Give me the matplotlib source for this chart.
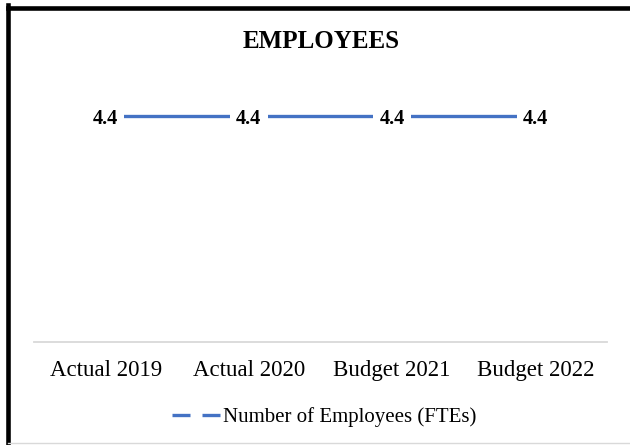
import matplotlib
matplotlib.use("Agg")
import matplotlib.pyplot as plt
from matplotlib.lines import Line2D

# 数値データ
categories = ["Actual 2019", "Actual 2020", "Budget 2021", "Budget 2022"]
employees = [4.4, 4.4, 4.4, 4.4]
series_name = "Number of Employees (FTEs)"
title = "EMPLOYEES"

plt.rcParams['font.family'] = ['Liberation Serif', 'DejaVu Serif']
blue = "#4472C4"

W, H = 630, 445
fig = plt.figure(figsize=(W / 100, H / 100), dpi=100)

# グラフ領域 (ピクセルで指定)
left, right, base, top = 34, 607, 341.5, 85.5
ax = fig.add_axes([left / W, 1 - base / H, (right - left) / W, (base - top) / H])

x = list(range(len(categories)))
ax.plot(x, employees, color=blue, lw=2.4, solid_capstyle="butt", zorder=2)

# データラベル(白背景で線を切る)
for xi, v in zip(x, employees):
    ax.text(xi, v, f"{v:.1f}", ha="center", va="center_baseline", fontsize=14.6,
            fontweight="bold", zorder=3,
            bbox=dict(boxstyle="square,pad=0.3", fc="white", ec="none"))

ax.set_xlim(-0.5, len(categories) - 0.5)
ax.set_ylim(0, 5)
ax.set_xticks(x)
ax.set_xticklabels(categories, fontsize=16.5)
ax.tick_params(axis="x", length=0, pad=13)
ax.set_yticks([])
for s in ["top", "left", "right"]:
    ax.spines[s].set_visible(False)
ax.spines["bottom"].set_color("#D9D9D9")
ax.spines["bottom"].set_linewidth(1.3)

# タイトル
fig.text(321 / W, 1 - 42 / H, title, ha="center", va="center",
         fontsize=18, fontweight="bold")

# 凡例
handle = Line2D([], [], color=blue, lw=2.4, linestyle=(0, (5.4, 3.6)))
fig.legend([handle], [series_name], loc="center",
           bbox_to_anchor=(324 / W, 1 - 417 / H), frameon=False,
           fontsize=15, handlelength=2.35, handletextpad=0.1)

# 外枠 (左と上は太線、下は細い灰色)
fig.add_artist(Line2D([8 / W, 8 / W], [0, 1 - 5 / H], transform=fig.transFigure,
                      color="black", lw=3.3, solid_capstyle="projecting"))
fig.add_artist(Line2D([8 / W, 1], [1 - 7.5 / H, 1 - 7.5 / H], transform=fig.transFigure,
                      color="black", lw=3.3, solid_capstyle="projecting"))
fig.add_artist(Line2D([8 / W, 1], [1 - 443 / H, 1 - 443 / H], transform=fig.transFigure,
                      color="#D9D9D9", lw=1.0))

fig.savefig("out.png", dpi=100)
